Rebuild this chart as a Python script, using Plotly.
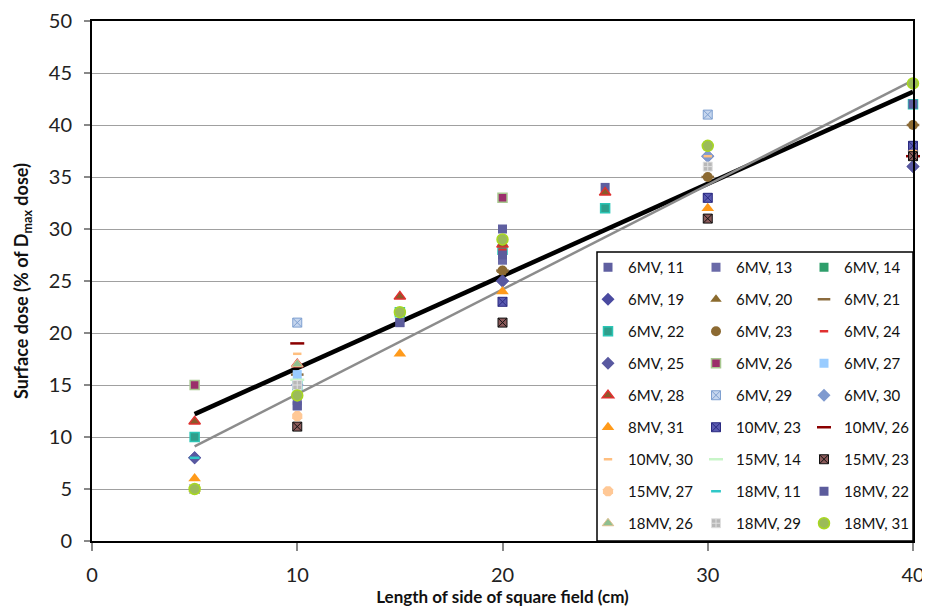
import plotly.graph_objects as go

field_sizes = [5, 10, 15, 20, 25, 30, 40]

series_names = [
    "6MV, 11", "6MV, 13", "6MV, 14",
    "6MV, 19", "6MV, 20", "6MV, 21",
    "6MV, 22", "6MV, 23", "6MV, 24",
    "6MV, 25", "6MV, 26", "6MV, 27",
    "6MV, 28", "6MV, 29", "6MV, 30",
    "8MV, 31", "10MV, 23", "10MV, 26",
    "10MV, 30", "15MV, 14", "15MV, 23",
    "15MV, 27", "18MV, 11", "18MV, 22",
    "18MV, 26", "18MV, 29", "18MV, 31",
]

s6_11 = [5, 13, 21, 30, 34, 33, 42]
s6_13 = [5, 13.5, None, 27, None, None, 38]
s6_14 = [10, None, None, 28, None, None, None]
s6_19 = [8, None, None, 25, None, None, 36]
s6_20 = [None, 17, None, 26, 33.5, None, None]
s6_21 = [None, 16, None, 26, None, 35, 40]
s6_22 = [10, 15, 22, 28, 32, None, 42]
s6_23 = [None, None, None, 26, None, 35, 40]
s6_24 = [None, None, None, 28, None, 37, None]
s6_25 = [8, None, None, 25, None, 37, 36]
s6_26 = [15, None, None, 33, None, None, None]
s6_27 = [None, 16, None, None, None, 38, None]
s6_28 = [11.5, 17, 23.5, 28.5, 33.5, None, None]
s6_29 = [None, 21, None, None, None, 41, None]
s6_30 = [None, 15, None, None, None, 37, None]
s8_31 = [6, None, 18, 24, None, 32, None]
s10_23 = [5, None, None, 23, None, 33, 38]
s10_26 = [None, 19, None, None, None, None, 37]
s10_30 = [None, 18, None, None, None, 37, 37.5]
s15_14 = [None, 15.5, None, None, None, None, None]
s15_23 = [None, 11, None, 21, None, 31, 37]
s15_27 = [None, 12, None, None, None, None, None]
s18_11 = [8, None, None, None, None, None, 42]
s18_22 = [5, 13, 21, 27.5, None, None, 42]
s18_26 = [5, 17, None, None, None, None, None]
s18_29 = [5, 15, None, None, None, 36, None]
s18_31 = [5, 14, 22, 29, None, 38, 44]

series_values = [
    s6_11, s6_13, s6_14, s6_19, s6_20, s6_21, s6_22, s6_23, s6_24,
    s6_25, s6_26, s6_27, s6_28, s6_29, s6_30, s8_31, s10_23, s10_26,
    s10_30, s15_14, s15_23, s15_27, s18_11, s18_22, s18_26, s18_29, s18_31,
]

trend_x = [5, 40]
trend_black = [12.2, 43.2]
trend_grey = [9.1, 44.3]

y_ticks = [0, 5, 10, 15, 20, 25, 30, 35, 40, 45, 50]
x_ticks = [0, 10, 20, 30, 40]

# (symbol, fill, line colour, line width, size)
styles = [
    ("square", "#5F5FA0", "#5F5FA0", 0, 9),
    ("square", "#6A6AA8", "#6A6AA8", 0, 9),
    ("square", "#2E9E6B", "#2E9E6B", 0, 9),
    ("diamond", "#4A4AA0", "#4A4AA0", 0, 10),
    ("triangle-up", "#8B6B2E", "#8B6B2E", 0, 10),
    ("line-ew", "#8B6B3E", "#8B6B3E", 2.5, 9),
    ("square", "#2E9E8B", "#2BC5B5", 1.5, 9),
    ("circle", "#8C6A32", "#8C6A32", 0, 10),
    ("line-ew", "#E03030", "#E03030", 2.5, 6),
    ("diamond", "#5858A0", "#5858A0", 0, 10),
    ("square", "#9B2F6B", "#A8C890", 1.5, 9),
    ("square", "#99CCFF", "#99CCFF", 0, 9),
    ("triangle-up", "#8B5A2B", "#E03030", 1.5, 10),
    ("square-x", "#C6D6EE", "#7FA0D0", 1, 9),
    ("diamond", "#7F9ACF", "#7F9ACF", 0, 10),
    ("triangle-up", "#FF9A1A", "#FF9A1A", 0, 11),
    ("square-x", "#5A5AB0", "#2A2A80", 1, 9),
    ("line-ew", "#8B0000", "#8B0000", 2.5, 10),
    ("line-ew", "#FFBF80", "#FFBF80", 2.5, 6),
    ("line-ew", "#C8F5C8", "#C8F5C8", 2.5, 10),
    ("square-x", "#8B5A5A", "#111111", 1, 9),
    ("octagon", "#FFC896", "#FFC896", 0, 11),
    ("line-ew", "#30C8C8", "#30C8C8", 2.5, 7),
    ("square", "#5C5C9C", "#5C5C9C", 0, 9),
    ("triangle-up", "#8FBF8F", "#E0C090", 1, 10),
    ("square-cross", "#B8B8B8", "#E0E0E0", 1, 9),
    ("circle", "#9BBB59", "#A8D820", 1.5, 11),
]

FONT = "Lato"

fig = go.Figure()

fig.add_trace(go.Scatter(x=trend_x, y=trend_black, mode="lines",
                         line=dict(color="#000000", width=4.5),
                         showlegend=False, hoverinfo="skip"))
fig.add_trace(go.Scatter(x=trend_x, y=trend_grey, mode="lines",
                         line=dict(color="#8C8C8C", width=2.5),
                         showlegend=False, hoverinfo="skip"))

legend_ids = ["legend", "legend2", "legend3"]
for i, (name, vals) in enumerate(zip(series_names, series_values)):
    sym, fill, lc, lw, sz = styles[i]
    fig.add_trace(go.Scatter(
        x=field_sizes, y=vals, mode="markers", name=name,
        marker=dict(symbol=sym, color=fill, size=sz,
                    line=dict(color=lc, width=lw)),
        cliponaxis=False,
        legend=legend_ids[i % 3], legendgroup=name,
    ))

# legend frame
fig.add_shape(type="rect", xref="paper", yref="paper",
              x0=(597 - 92) / 821, x1=1.0, y0=0.0, y1=(541 - 252) / 520,
              fillcolor="white", line=dict(color="#000000", width=1.5),
              layer="above")

leg_common = dict(yanchor="top", xanchor="left", y=0.5577,
                  bgcolor="rgba(0,0,0,0)", borderwidth=0,
                  font=dict(family=FONT, size=15, color="#111111"),
                  tracegroupgap=9.5, itemwidth=30)

# page body has an 8px margin: plot area spans page x 92..913, y 21..541
fig.update_layout(
    width=920, height=599,
    margin=dict(l=84, r=15, t=13, b=66, autoexpand=False),
    paper_bgcolor="white", plot_bgcolor="white",
    font=dict(family=FONT, color="#222222"),
    legend=dict(x=(588 - 92) / 821, **leg_common),
    legend2=dict(x=(696 - 92) / 821, **leg_common),
    legend3=dict(x=(804 - 92) / 821, **leg_common),
    xaxis=dict(
        range=[0, 40], tickvals=x_ticks, ticktext=[str(v) for v in x_ticks],
        showgrid=False, zeroline=False, automargin=False,
        showline=True, mirror=True, linecolor="#000000", linewidth=2,
        ticks="outside", ticklen=8, tickcolor="#888888", tickwidth=1.5,
        ticklabelstandoff=7, ticklabeloverflow="allow",
        tickfont=dict(family=FONT, size=20, color="#222222"),
        title=dict(text="Length of side of square field (cm)",
                   font=dict(family=FONT, size=17, color="#111111", weight="bold"),
                   standoff=12),
    ),
    yaxis=dict(
        range=[0, 50], tickvals=y_ticks, ticktext=[str(v) for v in y_ticks],
        showgrid=True, gridcolor="#A0A0A0", gridwidth=1.3,
        zeroline=False, automargin=False,
        showline=True, mirror=True, linecolor="#000000", linewidth=2,
        ticks="outside", ticklen=6, tickcolor="#888888", tickwidth=1.5,
        ticklabelstandoff=8, ticklabeloverflow="allow",
        tickfont=dict(family=FONT, size=20, color="#222222"),
        title=dict(text="Surface dose (% of D<sub>max</sub> dose)",
                   font=dict(family=FONT, size=18, color="#111111", weight="bold"),
                   standoff=15),
    ),
)

fig.write_html("out.html")
